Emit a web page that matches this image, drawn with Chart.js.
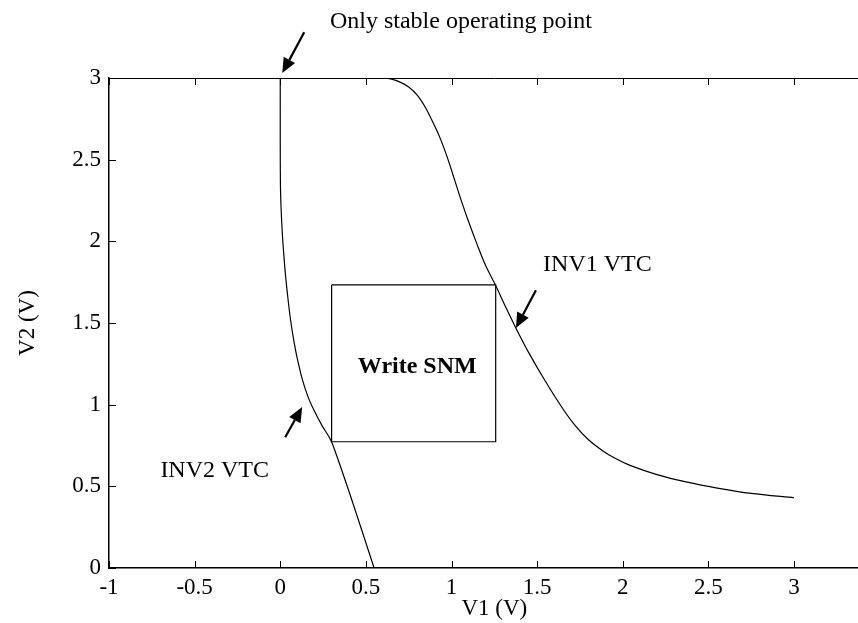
<!DOCTYPE html>
<html>
<head>
<meta charset="utf-8">
<script src="https://cdn.jsdelivr.net/npm/chart.js@4.4.0/dist/chart.umd.min.js"></script>
<style>
html, body { margin: 0; padding: 0; background: #fff; overflow: hidden; }
#wrap { width: 900px; height: 623px; }
</style>
</head>
<body>
<div id="wrap"><canvas id="myChart" width="900" height="623"></canvas></div>
<script>
// INV1 VTC
let inv1V1 = [0.57, 0.60, 0.65, 0.70, 0.75, 0.80, 0.85, 0.90, 0.94, 0.98, 1.02, 1.06, 1.10, 1.15, 1.20, 1.26, 1.32, 1.38, 1.45, 1.55, 1.65, 1.72, 1.80, 1.88, 1.95, 2.05, 2.2, 2.37, 2.56, 2.75, 3.0];
let inv1V2 = [3.0, 3.0, 2.993, 2.975, 2.945, 2.895, 2.815, 2.71, 2.615, 2.50, 2.37, 2.24, 2.12, 1.98, 1.85, 1.725, 1.59, 1.46, 1.32, 1.14, 0.975, 0.875, 0.785, 0.72, 0.675, 0.625, 0.572, 0.527, 0.488, 0.457, 0.43];

// INV2 VTC
let inv2V1 = [0, 0, 0.001, 0.005, 0.012, 0.02, 0.03, 0.045, 0.06, 0.078, 0.10, 0.13, 0.165, 0.20, 0.245, 0.286, 0.31, 0.42, 0.548];
let inv2V2 = [3.0, 2.6, 2.35, 2.2, 2.05, 1.93, 1.8, 1.65, 1.52, 1.40, 1.28, 1.15, 1.04, 0.96, 0.87, 0.80, 0.745, 0.41, 0.0];

// Write SNM square
let boxV1 = [0.30, 1.258, 1.258, 0.30, 0.30];
let boxV2 = [1.733, 1.733, 0.773, 0.773, 1.733];

// axis ranges / ticks
let xMin = -1, xMax = 3.5, xStep = 0.5;
let yMin = 0, yMax = 3, yStep = 0.5;

// annotations (data units)
let arrows = [
    { from: [0.14, 3.28], to: [0.012, 3.03] },
    { from: [0.029, 0.80], to: [0.128, 0.986] },
    { from: [1.493, 1.70], to: [1.376, 1.47] }
];
let notes = [
    { text: 'Only stable operating point', at: [1.055, 3.343], align: 'center', bold: false },
    { text: 'INV1 VTC', at: [1.535, 1.855], align: 'left', bold: false },
    { text: 'INV2 VTC', at: [-0.70, 0.594], align: 'left', bold: false },
    { text: 'Write SNM', at: [0.80, 1.23], align: 'center', bold: true }
];

function pts(xs, ys) {
    return xs.map((x, i) => ({ x: x, y: ys[i] }));
}

function fmt(v) {
    return String(Number(v.toFixed(2)));
}

const serif = "'Liberation Serif', 'Times New Roman', serif";

// inward ticks, top border, arrows and labels
const extras = {
    id: 'extras',
    afterDraw(chart) {
        let ctx = chart.ctx;
        let a = chart.chartArea;
        let sx = chart.scales.x, sy = chart.scales.y;
        ctx.save();
        ctx.strokeStyle = '#000';
        ctx.lineWidth = 1;
        // top border
        ctx.beginPath();
        ctx.moveTo(a.left, a.top + 0.5);
        ctx.lineTo(a.right, a.top + 0.5);
        ctx.stroke();
        // ticks
        ctx.beginPath();
        for (let v = xMin; v <= xMax + 1e-9; v += xStep) {
            let px = Math.round(sx.getPixelForValue(v)) + 0.5;
            ctx.moveTo(px, a.bottom); ctx.lineTo(px, a.bottom - 7);
            ctx.moveTo(px, a.top); ctx.lineTo(px, a.top + 7);
        }
        for (let v = yMin; v <= yMax + 1e-9; v += yStep) {
            let py = Math.round(sy.getPixelForValue(v)) + 0.5;
            ctx.moveTo(a.left, py); ctx.lineTo(a.left + 7, py);
            ctx.moveTo(a.right, py); ctx.lineTo(a.right - 7, py);
        }
        ctx.stroke();

        // arrows
        ctx.fillStyle = '#000';
        arrows.forEach(ar => {
            let x1 = sx.getPixelForValue(ar.from[0]), y1 = sy.getPixelForValue(ar.from[1]);
            let x2 = sx.getPixelForValue(ar.to[0]), y2 = sy.getPixelForValue(ar.to[1]);
            let ang = Math.atan2(y2 - y1, x2 - x1);
            let hl = 15, hw = 6.5;
            let bx = x2 - hl * Math.cos(ang), by = y2 - hl * Math.sin(ang);
            ctx.lineWidth = 2.2;
            ctx.beginPath();
            ctx.moveTo(x1, y1);
            ctx.lineTo(bx, by);
            ctx.stroke();
            ctx.beginPath();
            ctx.moveTo(x2, y2);
            ctx.lineTo(bx + hw * Math.sin(ang), by - hw * Math.cos(ang));
            ctx.lineTo(bx - hw * Math.sin(ang), by + hw * Math.cos(ang));
            ctx.closePath();
            ctx.fill();
        });

        // labels
        ctx.textBaseline = 'middle';
        notes.forEach(n => {
            ctx.font = (n.bold ? 'bold ' : '') + '24px ' + serif;
            ctx.textAlign = n.align;
            ctx.fillText(n.text, sx.getPixelForValue(n.at[0]), sy.getPixelForValue(n.at[1]));
        });
        ctx.restore();
    }
};

let ctx = document.getElementById('myChart').getContext('2d');

let vtc = new Chart(ctx, {
    type: 'scatter',
    data: {
        datasets: [
            {
                label: 'INV1 VTC',
                data: pts(inv1V1, inv1V2),
                showLine: true,
                borderColor: '#000',
                borderWidth: 1.2,
                pointRadius: 0,
                tension: 0.3
            },
            {
                label: 'INV2 VTC',
                data: pts(inv2V1, inv2V2),
                showLine: true,
                borderColor: '#000',
                borderWidth: 1.2,
                pointRadius: 0,
                tension: 0.3
            },
            {
                label: 'Write SNM',
                data: pts(boxV1, boxV2),
                showLine: true,
                borderColor: '#000',
                borderWidth: 1.2,
                pointRadius: 0,
                tension: 0
            }
        ]
    },
    options: {
        responsive: false,
        animation: false,
        devicePixelRatio: 1,
        layout: { padding: { top: 78, right: 19, left: 0, bottom: 0 } },
        plugins: {
            legend: { display: false },
            tooltip: { enabled: false }
        },
        scales: {
            x: {
                type: 'linear',
                min: xMin,
                max: xMax,
                afterFit(scale) { scale.height = 55; },
                ticks: {
                    stepSize: xStep,
                    padding: 6,
                    color: '#000',
                    maxRotation: 0,
                    callback: fmt,
                    font: { family: serif, size: 23 }
                },
                grid: { display: false, drawTicks: false },
                border: { display: true, color: '#000', width: 1.5 },
                title: {
                    display: true,
                    text: 'V1 (V)',
                    color: '#000',
                    font: { family: serif, size: 23 },
                    padding: { top: 0, bottom: 0 }
                }
            },
            y: {
                type: 'linear',
                min: yMin,
                max: yMax,
                afterFit(scale) { scale.width = 109; },
                ticks: {
                    stepSize: yStep,
                    padding: 8,
                    color: '#000',
                    callback: fmt,
                    font: { family: serif, size: 23 }
                },
                grid: { display: false, drawTicks: false },
                border: { display: true, color: '#000', width: 1.5 },
                title: {
                    display: true,
                    text: 'V2 (V)',
                    color: '#000',
                    font: { family: serif, size: 23 },
                    padding: { top: 14, bottom: 0 }
                }
            }
        }
    },
    plugins: [extras]
});
</script>
</body>
</html>
